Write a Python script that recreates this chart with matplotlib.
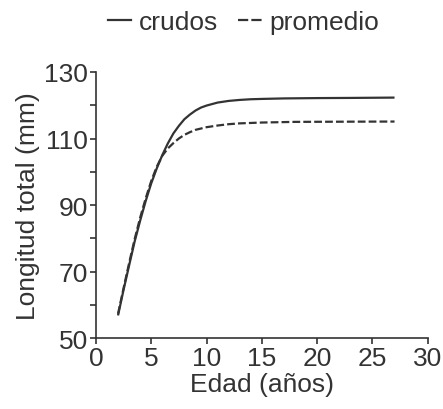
import matplotlib
matplotlib.use("Agg")
import matplotlib.pyplot as plt
from matplotlib.ticker import MultipleLocator
from matplotlib.lines import Line2D

plt.rcParams['font.family'] = ['Liberation Sans', 'DejaVu Sans']

edad_crudos = [2, 2.5, 3, 3.5, 4, 4.5, 5, 5.5, 6, 6.5, 7, 7.5, 8, 8.5, 9, 9.5, 10, 11, 12, 13, 14, 15, 17, 20, 23, 27]
long_crudos = [56.8, 64.5, 71.8, 79.0, 85.3, 91.2, 96.5, 101.0, 105.0, 108.5, 111.5, 113.8, 115.8, 117.2, 118.4, 119.3,
               119.9, 120.8, 121.3, 121.6, 121.8, 121.9, 122.05, 122.15, 122.2, 122.3]

edad_prom = [2, 2.5, 3, 3.5, 4, 4.5, 5, 5.5, 6, 6.5, 7, 7.5, 8, 8.5, 9, 10, 11, 12, 13, 15, 18, 22, 27]
long_prom = [57.3, 65.0, 72.5, 79.7, 86.2, 92.0, 97.2, 101.5, 104.8, 107.0, 108.6, 110.0, 111.1, 111.9, 112.6,
             113.4, 113.9, 114.3, 114.55, 114.8, 115.0, 115.05, 115.1]

serie_nombres = ['crudos', 'promedio']
x_ticks = [0, 5, 10, 15, 20, 25, 30]
y_ticks = [50, 70, 90, 110, 130]

col = '#333333'
fs = 19
fig = plt.figure(figsize=(4.43, 4.10), dpi=100)
ax = fig.add_axes([0.2165, 0.173, 0.749, 0.649])

ax.plot(edad_crudos, long_crudos, color=col, lw=1.6, solid_capstyle='butt')
ax.plot(edad_prom, long_prom, color=col, lw=1.6, ls=(0, (3.5, 1.4)))

ax.set_xlim(0, 30)
ax.set_ylim(50, 130)
ax.set_xticks(x_ticks)
ax.set_yticks(y_ticks)
ax.yaxis.set_minor_locator(MultipleLocator(10))

for s in ['top', 'right']:
    ax.spines[s].set_visible(False)
for s in ['left', 'bottom']:
    ax.spines[s].set_color(col)
    ax.spines[s].set_linewidth(1.2)

ax.tick_params(axis='both', which='major', direction='out', length=4, width=1.2, color=col,
               labelsize=fs, labelcolor=col, pad=1.5)
ax.tick_params(axis='y', which='minor', direction='out', length=4, width=1.2, color=col)

ax.set_xlabel('Edad (años)', fontsize=fs, color=col, labelpad=2)
ax.set_ylabel('Longitud total (mm)', fontsize=fs, color=col, labelpad=3)

h1 = Line2D([], [], color=col, lw=1.6)
h2 = Line2D([], [], color=col, lw=1.6, ls=(0, (4.6, 1.4)))
fig.legend([h1, h2], serie_nombres, loc='upper center', bbox_to_anchor=(0.55, 1.03), ncol=2, frameon=False,
           fontsize=fs, handlelength=0.89, handletextpad=0.3, columnspacing=0.75, labelcolor=col)

fig.savefig('out.png', dpi=100)
